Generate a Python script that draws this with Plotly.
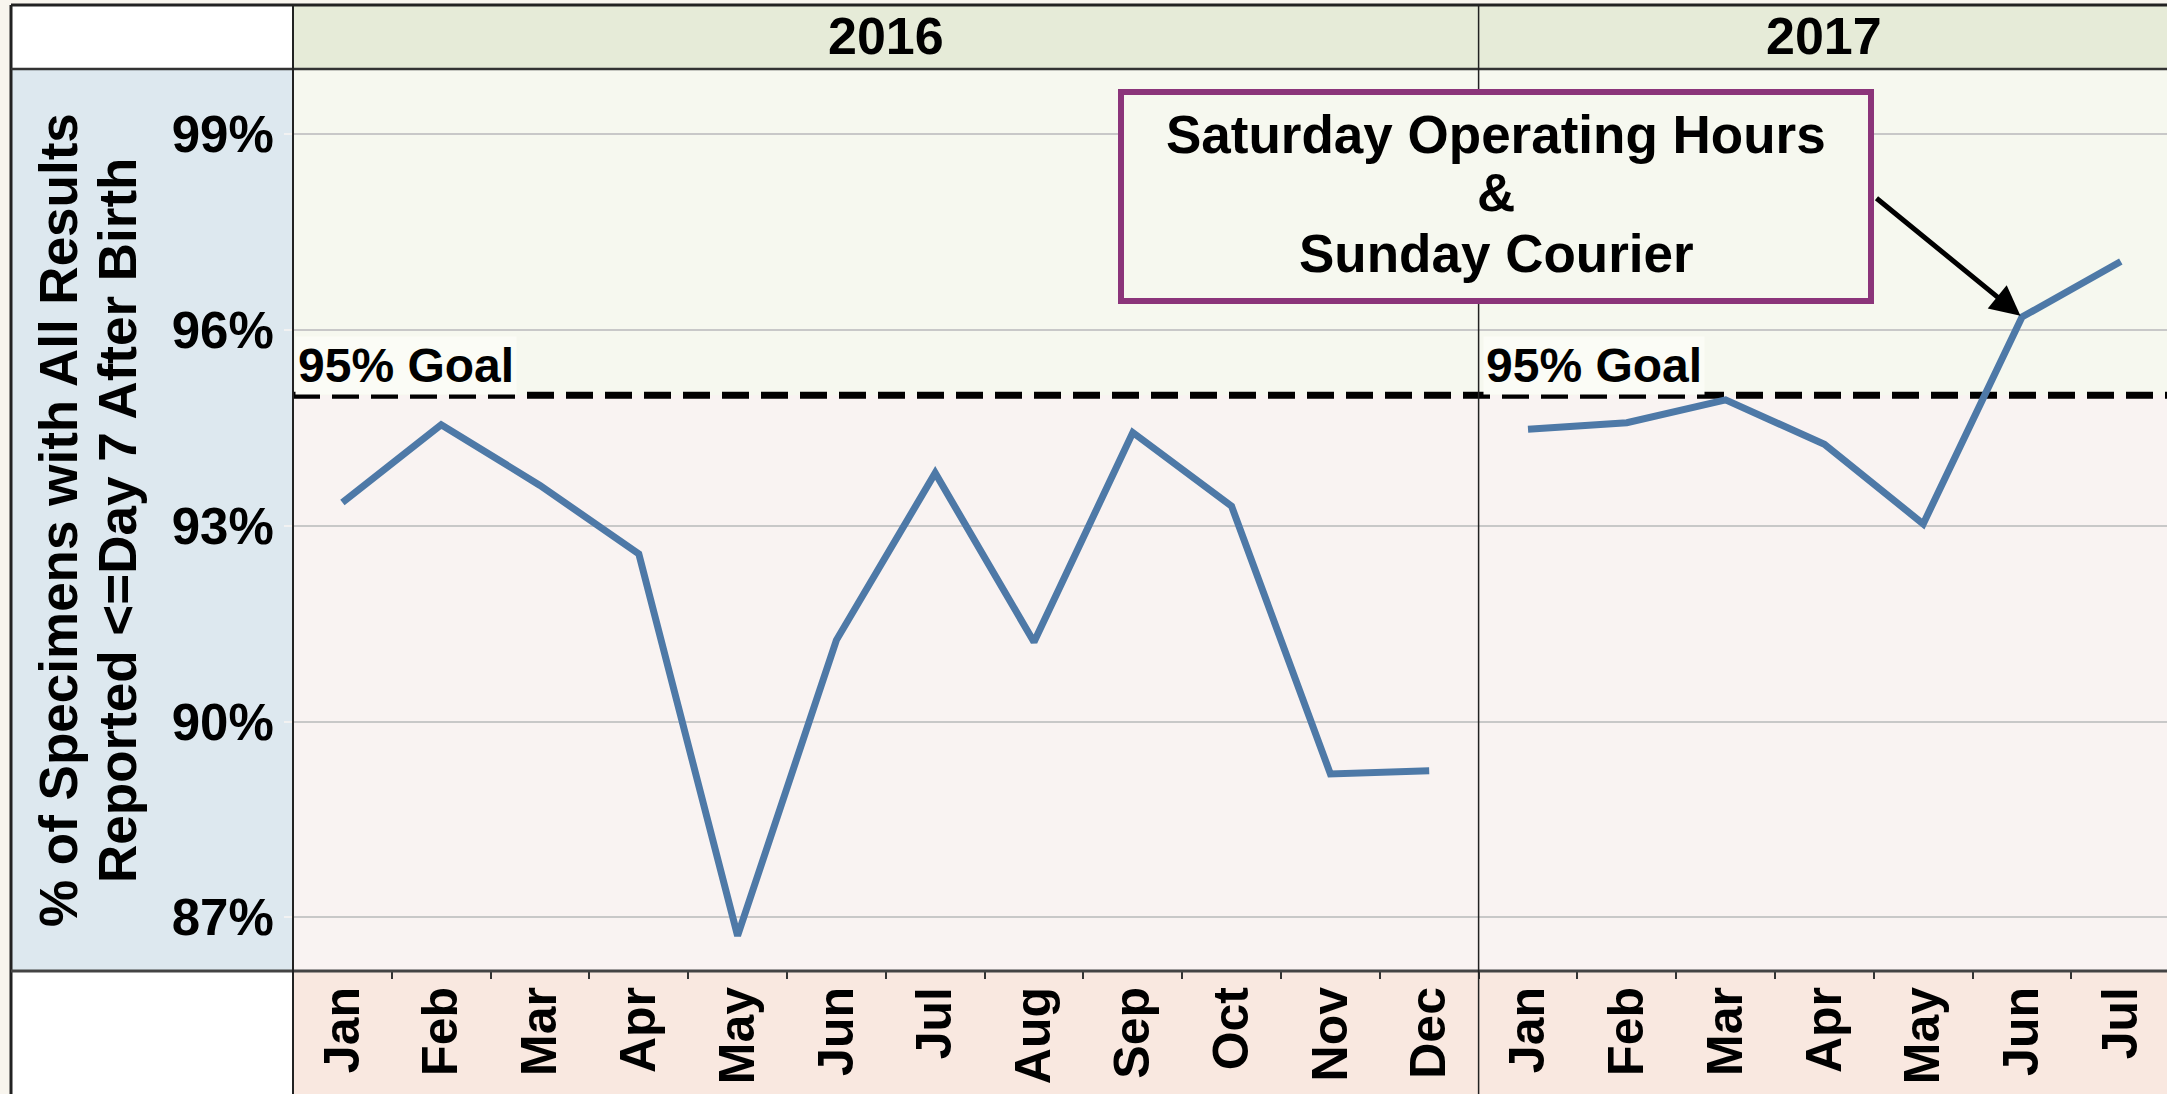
import plotly.graph_objects as go

# ---------------- data ----------------
years = ["2016", "2017"]
months_2016 = ["Jan", "Feb", "Mar", "Apr", "May", "Jun", "Jul", "Aug", "Sep", "Oct", "Nov", "Dec"]
months_2017 = ["Jan", "Feb", "Mar", "Apr", "May", "Jun", "Jul"]
values_2016 = [93.36, 94.55, 93.62, 92.57, 86.72, 91.25, 93.81, 91.22, 94.43, 93.30, 89.20, 89.25]
values_2017 = [94.48, 94.58, 94.93, 94.25, 93.03, 96.20, 97.05]
y_ticks = [87, 90, 93, 96, 99]
y_tick_labels = ["87%", "90%", "93%", "96%", "99%"]
goal = 95
goal_label = "95% Goal"
callout_lines = ["Saturday Operating Hours", "&", "Sunday Courier"]
callout_month = "Jun"
y_title_lines = ["% of Specimens with All Results", "Reported <=Day 7 After Birth"]

# ---------------- geometry (pixels) ----------------
W, H = 2167, 1094
FRAME_L, FRAME_T = 11, 5
PL, PT, PB = 293, 69, 971
CAT_W = 98.8

def px(x):
    return x / W

def py(y):
    return 1 - y / H

FONT = "Arial, Liberation Sans, sans-serif"
LINE_COLOR = "#4E79A7"

n16 = len(values_2016)
x2016 = list(range(n16))
x2017 = [n16 + i for i in range(len(values_2017))]
all_months = months_2016 + months_2017
x_all = x2016 + x2017
x_right = -0.5 + (W - PL) / CAT_W
div_x = PL + n16 * CAT_W
y_lo, y_hi = 86.18, 100.0

fig = go.Figure()

# goal line
fig.add_trace(go.Scatter(
    x=[-0.5, x_right], y=[goal, goal], mode="lines",
    line=dict(color="black", width=7, dash="27px,12px"),
    hoverinfo="skip", showlegend=False))

fig.add_trace(go.Scatter(x=x2016, y=values_2016, mode="lines",
                         line=dict(color=LINE_COLOR, width=7), showlegend=False))
fig.add_trace(go.Scatter(x=x2017, y=values_2017, mode="lines",
                         line=dict(color=LINE_COLOR, width=7), showlegend=False))

shapes = []

def prect(x0, y0, x1, y1, fill, layer="below"):
    shapes.append(dict(type="rect", xref="paper", yref="paper",
                       x0=px(x0), x1=px(x1), y0=py(y0), y1=py(y1),
                       fillcolor=fill, line=dict(width=0), layer=layer))

def pline(x0, y0, x1, y1, color, width):
    shapes.append(dict(type="line", xref="paper", yref="paper",
                       x0=px(x0), x1=px(x1), y0=py(y0), y1=py(y1),
                       line=dict(color=color, width=width), layer="above"))

# background cells
prect(FRAME_L, PT, PL, PB, "#DDE8EF")          # y-title column
prect(PL, FRAME_T, W, PT, "#E6EBD8")           # year header
prect(FRAME_L, FRAME_T, PL, PT, "#FFFFFF")     # top-left cell
prect(PL, PB, W, H, "#F9E8E0")                 # month strip
prect(FRAME_L, PB, PL, H, "#FFFFFF")           # bottom-left cell
# plot bands
shapes.append(dict(type="rect", xref="paper", yref="y", x0=px(PL), x1=1,
                   y0=goal, y1=y_hi, fillcolor="#F6F8EF", line=dict(width=0), layer="below"))
shapes.append(dict(type="rect", xref="paper", yref="y", x0=px(PL), x1=1,
                   y0=y_lo, y1=goal, fillcolor="#F9F3F2", line=dict(width=0), layer="below"))

# border lines
pline(FRAME_L, FRAME_T, FRAME_L, H, "#222222", 3)
pline(FRAME_L, FRAME_T, W, FRAME_T, "#222222", 3)
pline(FRAME_L, PT, W, PT, "#333333", 2.5)
pline(FRAME_L, PB, W, PB, "#444444", 3)
pline(PL, FRAME_T, PL, H, "#222222", 2)
pline(div_x, FRAME_T, div_x, H, "#222222", 1.5)

# callout box
BX0, BY0, BX1, BY1 = 1121, 92, 1871, 301
shapes.append(dict(type="rect", xref="paper", yref="paper",
                   x0=px(BX0), x1=px(BX1), y0=py(BY0), y1=py(BY1),
                   fillcolor="#F6F8EF", line=dict(color="#8B357A", width=6), layer="above"))

annotations = []
# year headers
annotations.append(dict(xref="paper", yref="paper", x=px((PL + div_x) / 2), y=py(36),
                        text=years[0], showarrow=False, xanchor="center", yanchor="middle",
                        font=dict(family=FONT, size=52, color="black", weight="bold")))
annotations.append(dict(xref="paper", yref="paper", x=px((div_x + PL + 19 * CAT_W) / 2), y=py(36),
                        text=years[1], showarrow=False, xanchor="center", yanchor="middle",
                        font=dict(family=FONT, size=52, color="black", weight="bold")))
# goal labels
for gx in (PL + 2, div_x + 4):
    annotations.append(dict(xref="paper", yref="paper", x=px(gx), y=py(365),
                            text=goal_label, showarrow=False, xanchor="left", yanchor="middle",
                            bgcolor="#FBFCF6", borderpad=2,
                            font=dict(family=FONT, size=48, color="black", weight="bold")))
# callout text
for txt, cy in zip(callout_lines, [134, 193, 254]):
    annotations.append(dict(xref="paper", yref="paper", x=px((BX0 + BX1) / 2), y=py(cy),
                            text=txt, showarrow=False, xanchor="center", yanchor="middle",
                            font=dict(family=FONT, size=53, color="black", weight="bold")))
# arrow
ai = months_2017.index(callout_month)
annotations.append(dict(xref="x", yref="y", x=x2017[ai], y=values_2017[ai], text="",
                        showarrow=True, arrowhead=2, arrowsize=1.2, arrowwidth=5,
                        arrowcolor="black", ax=-147, ay=-120, standoff=2))
# y title (two lines)
for txt, cx in zip(y_title_lines, [58, 117]):
    annotations.append(dict(xref="paper", yref="paper", x=px(cx), y=py((PT + PB) / 2),
                            text=txt, showarrow=False, textangle=-90,
                            xanchor="center", yanchor="middle",
                            font=dict(family=FONT, size=53, color="black", weight="bold")))

fig.update_layout(
    width=W, height=H,
    margin=dict(l=0, r=0, t=0, b=0),
    paper_bgcolor="#F8F5EE",
    plot_bgcolor="rgba(0,0,0,0)",
    shapes=shapes,
    annotations=annotations,
    showlegend=False,
    xaxis=dict(domain=[px(PL), 1], range=[-0.5, x_right],
               tickmode="array", tickvals=x_all, ticktext=all_months,
               tickangle=-90, ticks="", showgrid=False, zeroline=False, showline=False,
               ticklabelstandoff=5,
               tickfont=dict(family=FONT, size=50, color="black", weight="bold"),
               minor=dict(tickmode="array", tickvals=[v + 0.5 for v in x_all[:-1]],
                          ticks="outside", ticklen=7, tickcolor="#333333", tickwidth=2,
                          showgrid=False)),
    yaxis=dict(domain=[py(PB), py(PT)], range=[y_lo, y_hi],
               tickmode="array", tickvals=y_ticks, ticktext=y_tick_labels,
               ticks="outside", ticklen=8, tickcolor="#F2F2F2", tickwidth=2,
               showgrid=True, gridcolor="#C8C8C8", gridwidth=1.5,
               zeroline=False, showline=False,
               tickfont=dict(family=FONT, size=51, color="black", weight="bold")),
)

fig.write_html("out.html", config={"displayModeBar": False},
               post_script="document.body.style.margin='0';document.body.style.overflow='hidden';")
